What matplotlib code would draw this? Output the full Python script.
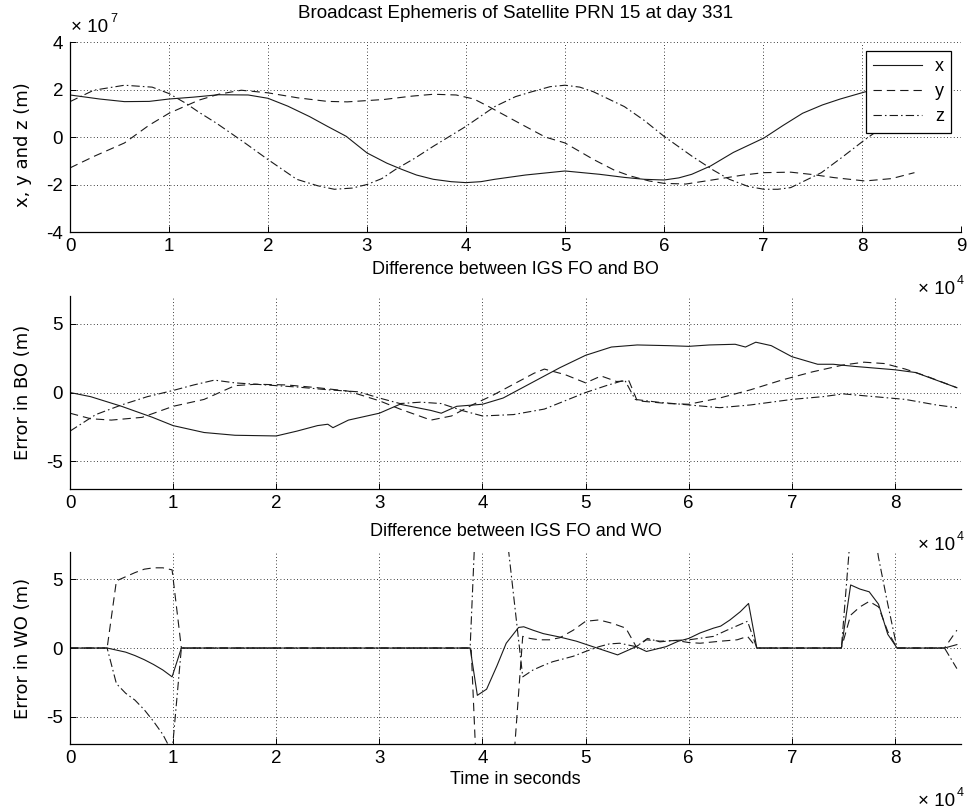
import numpy as np
import matplotlib
matplotlib.use("Agg")
import matplotlib.pyplot as plt

plt.rcParams['font.family'] = ['Liberation Sans', 'DejaVu Sans']

# ---- top panel: broadcast ephemeris (time in 1e4 s, coordinates in 1e7 m)
top_t_x = [0, 0.3, 0.55, 0.8, 1.0, 1.25, 1.5, 1.8, 2.0, 2.2, 2.42, 2.6, 2.79, 3.0, 3.2, 3.35, 3.5,
           3.67, 3.85, 4.0, 4.15, 4.29, 4.6, 5.0, 5.35, 5.6, 5.8, 6.0, 6.15, 6.28, 6.47, 6.7, 7.01,
           7.2, 7.4, 7.6, 7.78, 8.03, 8.2, 8.35, 8.55]
top_x = [1.77, 1.6, 1.49, 1.5, 1.6, 1.68, 1.78, 1.77, 1.63, 1.3, 0.86, 0.45, 0.03, -0.67, -1.1, -1.36,
         -1.6, -1.78, -1.88, -1.92, -1.88, -1.78, -1.6, -1.43, -1.57, -1.7, -1.78, -1.81, -1.72,
         -1.57, -1.22, -0.65, -0.04, 0.48, 1.0, 1.35, 1.6, 1.9, 2.0, 2.02, 1.9]

top_t_y = [0, 0.25, 0.55, 0.8, 1.0, 1.3, 1.5, 1.73, 2.0, 2.3, 2.6, 2.8, 3.17, 3.45, 3.67, 3.9, 4.08,
           4.23, 4.54, 4.8, 5.0, 5.29, 5.5, 5.66, 5.85, 6.0, 6.22, 6.53, 6.8, 7.01, 7.28, 7.5, 7.72,
           8.03, 8.3, 8.53]
top_y = [-1.3, -0.8, -0.25, 0.5, 1.0, 1.55, 1.8, 1.97, 1.86, 1.65, 1.5, 1.48, 1.58, 1.72, 1.8, 1.77,
         1.6, 1.28, 0.58, -0.0, -0.25, -0.95, -1.4, -1.64, -1.85, -1.95, -1.98, -1.78, -1.6, -1.5,
         -1.48, -1.58, -1.71, -1.85, -1.75, -1.5]

top_t_z = [0, 0.24, 0.55, 0.83, 1.0, 1.17, 1.3, 1.48, 1.75, 2.0, 2.29, 2.5, 2.67, 2.85, 3.0, 3.15,
           3.29, 3.48, 3.67, 4.0, 4.29, 4.5, 4.66, 4.85, 5.0, 5.15, 5.29, 5.6, 5.8, 6.0, 6.28, 6.5,
           6.66, 6.85, 7.01, 7.15, 7.28, 7.59, 7.8, 8.03, 8.22, 8.4, 8.55]
top_z = [1.49, 1.97, 2.18, 2.1, 1.83, 1.42, 1.05, 0.58, -0.2, -0.95, -1.78, -2.05, -2.2, -2.15, -2.0,
         -1.75, -1.36, -0.9, -0.39, 0.45, 1.28, 1.7, 1.9, 2.12, 2.18, 2.1, 1.9, 1.28, 0.7, 0.03, -0.8,
         -1.4, -1.78, -2.08, -2.2, -2.2, -2.13, -1.5, -0.85, -0.11, 0.45, 0.85, 1.2]

# ---- middle panel: IGS FO minus BO (m)
mid_t_x = [0, 0.2, 0.5, 0.8, 1.0, 1.3, 1.6, 2.0, 2.2, 2.4, 2.5, 2.55, 2.7, 3.0, 3.2, 3.5, 3.6, 3.75,
           4.0, 4.2, 4.5, 4.75, 5.0, 5.25, 5.5, 5.8, 6.0, 6.2, 6.45, 6.55, 6.65, 6.8, 7.0, 7.25, 7.4,
           7.6, 8.0, 8.2, 8.4, 8.6]
mid_x = [0, -0.3, -1.0, -1.8, -2.4, -2.9, -3.1, -3.15, -2.8, -2.4, -2.3, -2.55, -2.0, -1.5, -0.85,
         -1.3, -1.5, -1.0, -0.85, -0.4, 0.8, 1.8, 2.7, 3.3, 3.45, 3.4, 3.35, 3.45, 3.5, 3.3, 3.65,
         3.4, 2.6, 2.05, 2.05, 1.9, 1.65, 1.45, 0.9, 0.35]

mid_t_y = [0, 0.2, 0.4, 0.7, 1.0, 1.3, 1.45, 1.6, 1.8, 2.1, 2.4, 2.7, 3.0, 3.2, 3.5, 3.7, 3.9, 4.1,
           4.3, 4.5, 4.6, 4.8, 5.0, 5.15, 5.3, 5.42, 5.5, 5.8, 6.0, 6.3, 6.6, 6.9, 7.2, 7.5, 7.7,
           7.9, 8.1, 8.3, 8.6]
mid_y = [-1.5, -1.9, -2.0, -1.8, -1.0, -0.5, 0.0, 0.5, 0.6, 0.55, 0.35, 0.1, -0.6, -1.2, -2.0, -1.7,
         -0.9, -0.2, 0.6, 1.4, 1.7, 1.3, 0.7, 1.2, 0.8, 0.85, -0.6, -0.8, -0.85, -0.4, 0.2, 0.9,
         1.5, 2.0, 2.2, 2.1, 1.7, 1.2, 0.35]

mid_t_z = [0, 0.25, 0.5, 0.75, 1.0, 1.2, 1.4, 1.6, 1.9, 2.2, 2.5, 2.8, 3.0, 3.2, 3.4, 3.6, 3.8, 4.0,
           4.3, 4.6, 4.8, 5.0, 5.2, 5.38, 5.48, 5.7, 6.0, 6.3, 6.6, 7.0, 7.3, 7.5, 7.8, 8.1, 8.4, 8.6]
mid_z = [-2.8, -1.6, -0.9, -0.3, 0.15, 0.55, 0.9, 0.7, 0.55, 0.4, 0.2, 0.05, -0.4, -0.8, -0.7, -0.8,
         -1.3, -1.7, -1.6, -1.2, -0.6, 0.0, 0.5, 0.9, -0.5, -0.7, -0.9, -1.1, -0.9, -0.5, -0.3, -0.1,
         -0.3, -0.5, -0.9, -1.1]

# ---- bottom panel: IGS FO minus WO (m)
bot_t_x = [0, 0.36, 0.45, 0.54, 0.63, 0.72, 0.81, 0.90, 0.99, 1.08, 3.88, 3.95, 4.04, 4.14, 4.23,
           4.35, 4.4, 4.49, 4.59, 4.75, 4.91, 5.07, 5.31, 5.49, 5.59, 5.78, 5.9, 6.0, 6.11, 6.24,
           6.31, 6.4, 6.5, 6.58, 6.66, 7.48, 7.57, 7.66, 7.75, 7.84, 7.93, 8.02, 8.48, 8.6]
bot_x = [0, 0, -0.15, -0.3, -0.55, -0.85, -1.2, -1.6, -2.1, 0, 0, -3.45, -3.0, -1.3, 0.35, 1.5,
         1.55, 1.3, 1.05, 0.8, 0.5, 0.1, -0.5, 0.1, -0.25, 0.1, 0.5, 0.7, 1.1, 1.45, 1.6, 2.05,
         2.65, 3.25, 0, 0, 4.6, 4.3, 4.1, 3.2, 1.0, 0, 0, 0.25]

bot_t_y = [0, 0.36, 0.45, 0.54, 0.63, 0.72, 0.81, 0.90, 0.99, 1.08, 3.89, 3.97, 4.30, 4.39, 4.46,
           4.55, 4.65, 4.75, 4.88, 5.0, 5.13, 5.26, 5.39, 5.49, 5.59, 5.72, 5.88, 6.0, 6.11, 6.31,
           6.47, 6.57, 6.66, 7.48, 7.57, 7.66, 7.75, 7.84, 7.93, 8.02, 8.48, 8.6]
bot_y = [0, 0, 4.9, 5.2, 5.5, 5.75, 5.85, 5.85, 5.7, 0, 0, -14, -8.5, 0.85, 0.7, 0.6, 0.6, 0.75,
         1.3, 1.95, 2.05, 1.8, 1.45, 0.1, 0.6, 0.5, 0.55, 0.4, 0.35, 0.5, 0.6, 0.85, 0, 0, 2.4,
         3.0, 3.4, 3.0, 1.2, 0, 0, 1.3]

bot_t_z = [0, 0.36, 0.45, 0.54, 0.63, 0.72, 0.81, 0.90, 0.99, 1.08, 3.88, 3.97, 4.15, 4.39, 4.49,
           4.58, 4.68, 4.78, 4.88, 5.0, 5.13, 5.23, 5.33, 5.49, 5.6, 5.72, 5.85, 6.0, 6.1, 6.24,
           6.37, 6.57, 6.66, 7.48, 7.57, 7.75, 7.84, 7.93, 8.02, 8.48, 8.6]
bot_z = [0, 0, -2.6, -3.3, -3.8, -4.5, -5.35, -6.3, -7.6, 0, 0, 16, 14, -2.1, -1.6, -1.3, -1.0,
         -0.8, -0.6, -0.25, 0.1, 0.3, 0.35, 0.1, 0.7, 0.45, 0.55, 0.6, 0.7, 0.85, 1.3, 1.95, 0, 0,
         8.5, 11, 6.6, 3.2, 0, 0, -1.5]

LW = 0.8
COL = '#1a1a1a'
DASH = (0, (7.5, 4.5))
DASHDOT = (0, (7.5, 2.8, 1.4, 2.8))
FS = 13


def style(ax, xlim, ylim, xticks, yticks):
    ax.set_xlim(*xlim)
    ax.set_ylim(*ylim)
    ax.set_xticks(xticks)
    ax.set_yticks(yticks)
    ax.set_xticklabels([f'{v:g}' for v in xticks])
    ax.set_yticklabels([f'{v:g}' for v in yticks])
    for s in ['top', 'right']:
        ax.spines[s].set_visible(False)
    for s in ['left', 'bottom']:
        ax.spines[s].set_linewidth(0.9)
        ax.spines[s].set_color('black')
    ax.tick_params(direction='in', length=4, width=0.7, labelsize=13.5)
    ax.tick_params(axis='x', pad=4)
    ax.tick_params(axis='y', pad=5)
    ax.grid(True, color='black', linestyle=(0, (1, 3)), linewidth=0.6)


def multiplier(fig, x_right, y_base, exp):
    # "x 10" right-aligned at x_right (pixels), exponent just after it
    fig.text(x_right / 968, 1 - y_base / 811, '× 10', fontsize=13.5, ha='right', va='baseline')
    fig.text((x_right + 2) / 968, 1 - (y_base - 10) / 811, exp, fontsize=9, ha='left', va='baseline')


fig = plt.figure(figsize=(9.68, 8.11), dpi=100)
L, W = 70 / 968, 891 / 968
ax1 = fig.add_axes([L, 0.7139, W, 0.2343])
ax2 = fig.add_axes([L, 0.3970, W, 0.2380])
ax3 = fig.add_axes([L, 0.0826, W, 0.2367])

ax1.plot(top_t_x, top_x, '-', color=COL, lw=LW, label='x')
ax1.plot(top_t_y, top_y, linestyle=DASH, color=COL, lw=LW, label='y')
ax1.plot(top_t_z, top_z, linestyle=DASHDOT, color=COL, lw=LW, label='z')
style(ax1, (0, 9), (-4, 4), list(range(10)), [-4, -2, 0, 2, 4])
ax1.set_ylabel('x, y and z (m)', family='DejaVu Sans', fontsize=13, va='center')
ax1.yaxis.set_label_coords(-0.053, 0.46)
leg = ax1.legend(loc='upper right', bbox_to_anchor=(951 / 968, 1 - 51 / 811),
                 bbox_transform=fig.transFigure, borderaxespad=0, fancybox=False,
                 edgecolor='black', framealpha=1, fontsize=13, handlelength=2.7,
                 handletextpad=0.7, labelspacing=0.45, borderpad=0.4)
leg.get_frame().set_linewidth(0.9)

ax2.plot(mid_t_x, mid_x, '-', color=COL, lw=LW)
ax2.plot(mid_t_y, mid_y, linestyle=DASH, color=COL, lw=LW)
ax2.plot(mid_t_z, mid_z, linestyle=DASHDOT, color=COL, lw=LW)
style(ax2, (0, 8.64), (-7, 7), list(range(9)), [-5, 0, 5])
ax2.set_ylabel('Error in BO (m)', family='DejaVu Sans', fontsize=13, va='center')
ax2.yaxis.set_label_coords(-0.053, 0.5)

ax3.plot(bot_t_x, bot_x, '-', color=COL, lw=LW)
ax3.plot(bot_t_y, bot_y, linestyle=DASH, color=COL, lw=LW)
ax3.plot(bot_t_z, bot_z, linestyle=DASHDOT, color=COL, lw=LW)
style(ax3, (0, 8.64), (-7, 7), list(range(9)), [-5, 0, 5])
ax3.set_ylabel('Error in WO (m)', family='DejaVu Sans', fontsize=13, va='center')
ax3.yaxis.set_label_coords(-0.053, 0.5)

cx = (70 + 961) / 2 / 968
fig.text(cx, 1 - 14 / 811, 'Broadcast Ephemeris of Satellite PRN 15 at day 331',
         ha='center', va='center', fontsize=13.5)
fig.text(cx, 1 - 270 / 811, 'Difference between IGS FO and BO', ha='center', va='center', fontsize=FS)
fig.text(cx, 1 - 531 / 811, 'Difference between IGS FO and WO', ha='center', va='center', fontsize=FS)
fig.text(cx, 1 - 780 / 811, 'Time in seconds', ha='center', va='center', fontsize=FS)

multiplier(fig, 108, 32, '7')
multiplier(fig, 955, 294, '4')
multiplier(fig, 955, 550, '4')
multiplier(fig, 955, 806, '4')

fig.savefig('out.png', dpi=100)
